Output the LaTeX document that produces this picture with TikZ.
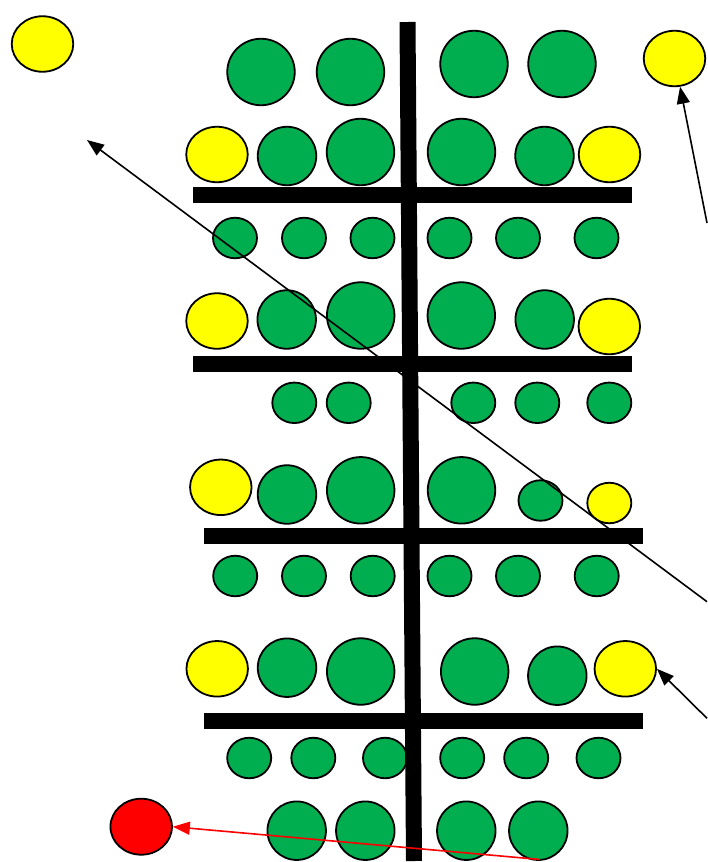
\documentclass[tikz,border=0pt]{standalone}
\usetikzlibrary{shapes.geometric,arrows.meta}
\definecolor{lgreen}{HTML}{00AD4F}
\definecolor{lyellow}{HTML}{FFFF00}
\definecolor{lred}{HTML}{FF0000}
\tikzset{
  blob/.style={ellipse,draw=black,line width=1.8pt,inner sep=0pt},
  gb/.style={blob,fill=lgreen,minimum width=67.5pt,minimum height=66.5pt},
  gm/.style={blob,fill=lgreen,minimum width=58.5pt,minimum height=58.5pt},
  gs/.style={blob,fill=lgreen,minimum width=44pt,minimum height=40.5pt},
  yl/.style={blob,fill=lyellow,minimum width=61.5pt,minimum height=55.5pt},
  ys/.style={blob,fill=lyellow,minimum width=44pt,minimum height=40.5pt},
  rd/.style={blob,fill=lred,minimum width=61.5pt,minimum height=56pt},
  bar/.style={line width=16pt,line cap=butt,black},
  pointer/.style={line width=1.6pt,-{Triangle[length=17pt,width=13pt]}},
}
\begin{document}
\begin{tikzpicture}[x=1pt,y=-1pt]
\useasboundingbox[fill=white] (0,0) rectangle (707,862);
% free-standing
\node[yl] (ytl) at (42.5,44) {};
\node[yl] (ytr) at (674.5,58.5) {};
\node[rd] (red) at (141.2,826.7) {};
% row 0
\node[gb] (a1) at (261,72) {};
\node[gb] (a2) at (350.5,72) {};
\node[gb] (a3) at (474,64) {};
\node[gb] (a4) at (562,64) {};
% row 1
\node[yl] (b1) at (217,154.5) {};
\node[gm] (b2) at (287,156) {};
\node[gb] (b3) at (360.5,152) {};
\node[gb] (b4) at (461.5,152) {};
\node[gm] (b5) at (544.5,156) {};
\node[yl] (b6) at (609.5,154.5) {};
% row 2
\node[gs] (c1) at (235,238) {};
\node[gs] (c2) at (304,238) {};
\node[gs] (c3) at (372.5,238) {};
\node[gs] (c4) at (449.5,238) {};
\node[gs] (c5) at (518,238) {};
\node[gs] (c6) at (596.5,238) {};
% row 3
\node[yl] (d1) at (217,321) {};
\node[gm] (d2) at (286.7,319.5) {};
\node[gb] (d3) at (360.7,315.5) {};
\node[gb] (d4) at (461.3,315.5) {};
\node[gm] (d5) at (544.7,319.5) {};
\node[yl] (d6) at (609.3,326.5) {};
% row 4
\node[gs] (e1) at (294.3,402.8) {};
\node[gs] (e2) at (348.7,402.8) {};
\node[gs] (e3) at (473.3,402.8) {};
\node[gs] (e4) at (537.3,402.8) {};
\node[gs] (e5) at (609.3,402.8) {};
% row 5
\node[yl] (f1) at (220.8,487.3) {};
\node[gm] (f2) at (287,494.5) {};
\node[gb] (f3) at (360.7,490.3) {};
\node[gb] (f4) at (461.5,490.3) {};
\node[gs] (f5) at (540.5,500.5) {};
\node[ys] (f6) at (609.3,503) {};
% row 6
\node[gs] (g1) at (235.2,576) {};
\node[gs] (g2) at (304,576) {};
\node[gs] (g3) at (372.7,576) {};
\node[gs] (g4) at (449.5,576) {};
\node[gs] (g5) at (518,576) {};
\node[gs] (g6) at (596.7,576) {};
% row 7
\node[yl] (h1) at (217.2,668.8) {};
\node[gm] (h2) at (287,667.7) {};
\node[gb] (h3) at (360.7,671.5) {};
\node[gb] (h4) at (474.7,671.5) {};
\node[gm] (h5) at (557.3,675.7) {};
\node[yl] (h6) at (625.3,668.8) {};
% row 8
\node[gs] (i1) at (249.2,758) {};
\node[gs] (i2) at (313.3,758) {};
\node[gs] (i3) at (385,758) {};
\node[gs] (i4) at (462.2,758) {};
\node[gs] (i5) at (526.2,758) {};
\node[gs] (i6) at (598.5,758) {};
% row 9
\node[gm] (j1) at (296.7,830.7) {};
\node[gm] (j2) at (365.3,830.7) {};
\node[gm] (j3) at (466.3,830.7) {};
\node[gm] (j4) at (538.3,830.7) {};
% bars
\coordinate (vt) at (407.5,22);
\coordinate (vb) at (414,861);
\coordinate (h1l) at (193,195);  \coordinate (h1r) at (632,195);
\coordinate (h2l) at (193,364);  \coordinate (h2r) at (632,364);
\coordinate (h3l) at (204,536);  \coordinate (h3r) at (643,536);
\coordinate (h4l) at (204,721);  \coordinate (h4r) at (643,721);
\draw[bar] (h1l) -- (h1r);
\draw[bar] (h2l) -- (h2r);
\draw[bar] (h3l) -- (h3r);
\draw[bar] (h4l) -- (h4r);
\draw[bar] (vt) -- (vb);
% arrows
\coordinate (s1) at (707,601.7);
\coordinate (t1) at (87,140);
\coordinate (s2) at (707,223);
\coordinate (s3) at (707,718.3);
\coordinate (s4) at (540,859.5);
\draw[pointer] (s1) -- (t1);
\draw[pointer] (s2) -- (ytr);
\draw[pointer] (s3) -- (h6.east);
\draw[pointer,draw=lred,fill=lred] (s4) -- (red.east);
\end{tikzpicture}
\end{document}
